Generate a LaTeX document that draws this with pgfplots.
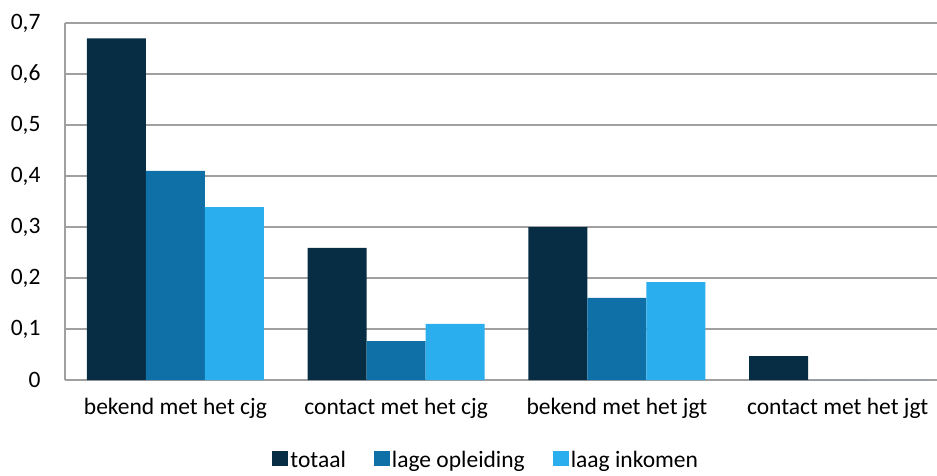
\documentclass[border=0pt]{standalone}
\usepackage{fontspec}
\setmainfont{Carlito}
\usepackage{pgfplots}
\pgfplotsset{compat=1.18}
\definecolor{c1}{HTML}{062D44}
\definecolor{c2}{HTML}{0E70A6}
\definecolor{c3}{HTML}{2BAEEE}
\definecolor{gridc}{HTML}{A0A0A0}
\begin{document}
\begin{tikzpicture}[x=1pt,y=1pt]
\useasboundingbox (0,0) rectangle (937,475);
\begin{axis}[
  at={(65pt,95pt)}, anchor=south west,
  scale only axis, width=883pt, height=357pt,
  xmin=-0.5, xmax=3.5, ymin=0, ymax=0.7,
  ybar=0pt, bar width=59pt,
  xtick={0,1,2,3},
  xticklabels={bekend met het cjg, contact met het cjg, bekend met het jgt, contact met het jgt},
  ytick={0,0.1,0.2,0.3,0.4,0.5,0.6,0.7},
  yticklabel style={/pgf/number format/use comma, /pgf/number format/assume math mode=true},
  /pgf/number format/assume math mode=true,
  axis lines=left,
  axis line style={gridc, line width=1.2pt, -},
  ymajorgrids, grid style={gridc, line width=1.2pt},
  major tick length=0pt,
  tick label style={font=\fontsize{23.5}{28}\selectfont, black},
  xticklabel style={yshift=-15pt},
  yticklabel style={xshift=-21pt},
  legend style={at={(0.477,-0.224)}, anchor=center, draw=none, legend columns=3,
    font=\fontsize{23.5}{28}\selectfont,
    /tikz/every even column/.append style={column sep=26pt},
    nodes={inner xsep=2pt}},
  legend image code/.code={\fill[#1] (0pt,-6pt) rectangle (16pt,9pt);},
]
\addplot[fill=c1, draw=none] coordinates {(0,0.67) (1,0.259) (2,0.30) (3,0.047)};
\addplot[fill=c2, draw=none] coordinates {(0,0.41) (1,0.076) (2,0.161) (3,0)};
\addplot[fill=c3, draw=none] coordinates {(0,0.339) (1,0.11) (2,0.192) (3,0)};
\legend{totaal, lage opleiding, laag inkomen}
\end{axis}
\end{tikzpicture}
\end{document}
